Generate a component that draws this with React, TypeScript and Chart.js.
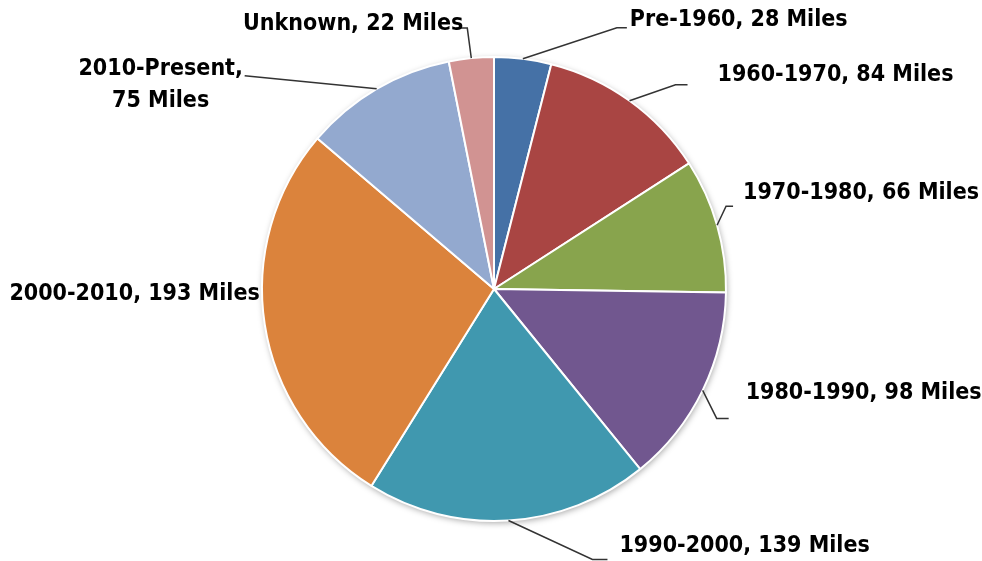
import React, { useEffect, useRef } from "react";
import { Chart, registerables } from "chart.js";

Chart.register(...registerables);

// ---- data ----
const categories = [
  "Pre-1960",
  "1960-1970",
  "1970-1980",
  "1980-1990",
  "1990-2000",
  "2000-2010",
  "2010-Present",
  "Unknown",
];
const miles = [28, 84, 66, 98, 139, 193, 75, 22];
const unit = "Miles";

// ---- styles ----
const sliceColors = [
  "#4571A6",
  "#A94543",
  "#88A44D",
  "#71578F",
  "#4098AF",
  "#DB833C",
  "#93A9CF",
  "#D19392",
];
const LABEL_FONT = 'bold 23px "Liberation Sans Narrow", "DejaVu Sans Condensed", Lato, sans-serif';

// label placement relative to each slice's outer mid point (elbow offset, tail, text offset)
type Layout = { ex: number; ey: number; hx: number; tx: number; ty: number; align: CanvasTextAlign; line: boolean; wrap?: boolean };
const labelLayout: Layout[] = [
  { ex: 94, ey: -31, hx: 10, tx: 13, ty: -8, align: "left", line: true },
  { ex: 46, ey: -16, hx: 12, tx: 42, ty: -10, align: "left", line: true },
  { ex: 9, ey: -19, hx: 7, tx: 17, ty: -13, align: "left", line: true },
  { ex: 14, ey: 28, hx: 12, tx: 29, ty: -25, align: "left", line: true },
  { ex: 84, ey: 39, hx: 15, tx: 27, ty: -14, align: "left", line: true },
  { ex: -5, ey: -30, hx: 0, tx: 0, ty: 0, align: "right", line: false },
  { ex: -132, ey: -13, hx: 0, tx: -84, ty: -7, align: "center", line: true, wrap: true },
  { ex: -4, ey: -30, hx: -11, tx: -4, ty: -4, align: "right", line: true },
];

const shadowPlugin = {
  id: "pieShadow",
  beforeDatasetsDraw(chart: any) {
    const arc = chart.getDatasetMeta(0).data[0];
    if (!arc) return;
    const { x, y, outerRadius } = arc.getProps(["x", "y", "outerRadius"], true);
    const ctx = chart.ctx;
    ctx.save();
    ctx.shadowColor = "rgba(0,0,0,0.35)";
    ctx.shadowBlur = 6;
    ctx.shadowOffsetX = 1;
    ctx.shadowOffsetY = 2;
    ctx.fillStyle = "#ffffff";
    ctx.beginPath();
    ctx.arc(x, y, outerRadius, 0, Math.PI * 2);
    ctx.fill();
    ctx.restore();
  },
};

const labelPlugin = {
  id: "outsideLabels",
  afterDatasetsDraw(chart: any) {
    const ctx = chart.ctx;
    const meta = chart.getDatasetMeta(0);
    const labels = chart.data.labels as string[];
    const values = chart.data.datasets[0].data as number[];
    meta.data.forEach((arc: any, i: number) => {
      const lay = labelLayout[i];
      if (!lay) return;
      const { x, y, startAngle, endAngle, outerRadius } = arc.getProps(
        ["x", "y", "startAngle", "endAngle", "outerRadius"],
        true
      );
      const mid = (startAngle + endAngle) / 2;
      const ax = x + Math.cos(mid) * outerRadius;
      const ay = y + Math.sin(mid) * outerRadius;
      const exX = ax + lay.ex;
      const exY = ay + lay.ey;
      ctx.save();
      if (lay.line) {
        ctx.strokeStyle = "#333333";
        ctx.lineWidth = 1.5;
        ctx.beginPath();
        ctx.moveTo(ax, ay);
        ctx.lineTo(exX, exY);
        if (lay.hx !== 0) ctx.lineTo(exX + lay.hx, exY);
        ctx.stroke();
      }
      ctx.font = LABEL_FONT;
      ctx.fillStyle = "#000000";
      ctx.textAlign = lay.align;
      ctx.textBaseline = "middle";
      const tx = exX + lay.tx;
      const ty = exY + lay.ty;
      if (lay.wrap) {
        ctx.fillText(`${labels[i]},`, tx, ty);
        ctx.fillText(`${values[i]} ${unit}`, tx, ty + 32);
      } else {
        ctx.fillText(`${labels[i]}, ${values[i]} ${unit}`, tx, ty);
      }
      ctx.restore();
    });
  },
};

export default function App() {
  const canvasRef = useRef<HTMLCanvasElement | null>(null);

  useEffect(() => {
    if (!canvasRef.current) return;
    const chart = new Chart(canvasRef.current, {
      type: "pie",
      data: {
        labels: categories,
        datasets: [
          {
            data: miles,
            backgroundColor: sliceColors,
            borderColor: "#ffffff",
            borderWidth: 2,
          },
        ],
      },
      options: {
        animation: false,
        responsive: true,
        maintainAspectRatio: false,
        layout: { padding: { top: 56, bottom: 39, left: 6, right: 0 } },
        plugins: {
          legend: { display: false },
          tooltip: { enabled: false },
        },
      },
      plugins: [shadowPlugin, labelPlugin],
    });
    return () => chart.destroy();
  }, []);

  return (
    <div style={{ position: "absolute", left: 0, top: 0, width: 982, height: 561, background: "#fff" }}>
      <canvas ref={canvasRef} />
    </div>
  );
}
